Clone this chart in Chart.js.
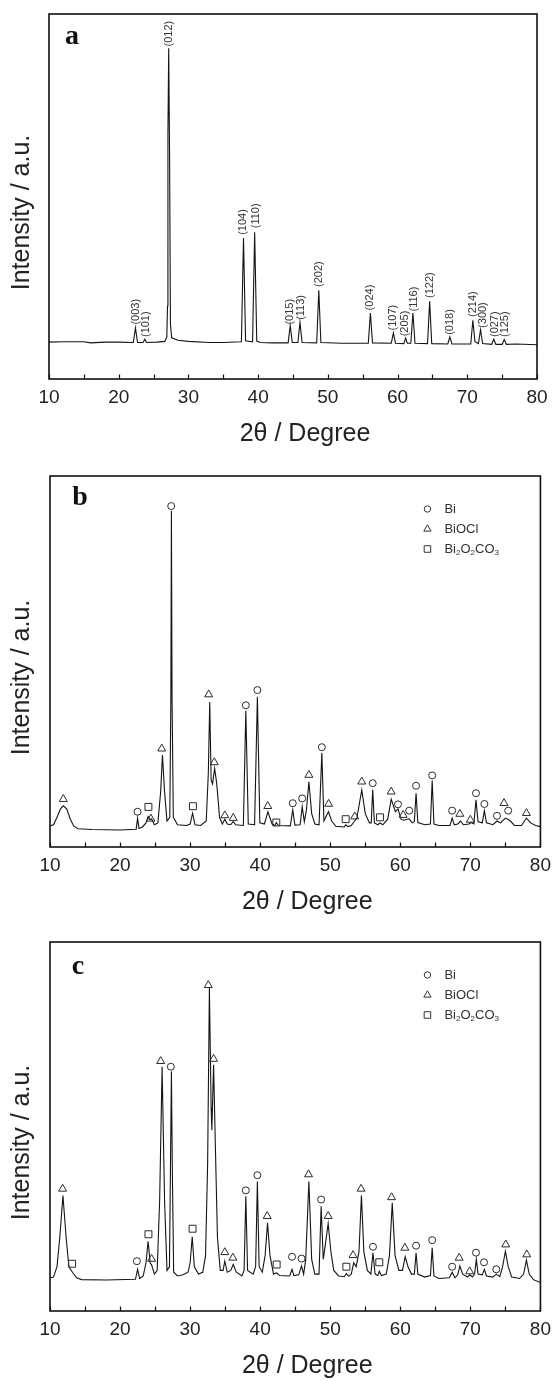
<!DOCTYPE html>
<html><head><meta charset="utf-8">
<script src="https://cdn.jsdelivr.net/npm/chart.js@4.4.1/dist/chart.umd.min.js"></script>
<style>
html,body{margin:0;padding:0;background:#fff;}
#wrap{position:relative;width:558px;height:1381px;overflow:hidden;}
.pane{position:absolute;left:0;width:558px;}
</style></head><body>
<div id="wrap">
<div class="pane" style="top:0;height:460px"><canvas id="ca"></canvas></div>
<div class="pane" style="top:460px;height:460px"><canvas id="cb"></canvas></div>
<div class="pane" style="top:920px;height:461px"><canvas id="cc"></canvas></div>
</div>
<script>
const FONT = "'Liberation Sans', Arial, sans-serif";
const SERIF = "'Liberation Serif', 'Times New Roman', serif";

const xTickValues = [10, 20, 30, 40, 50, 60, 70, 80];
const xMinorTicks = [15, 25, 35, 45, 55, 65, 75];
const legendNames = ['Bi', 'BiOCl', 'Bi2O2CO3'];
const xTitle = '2θ / Degree';
const yTitle = 'Intensity / a.u.';

// ---------- Panel a : pure Bi ----------
const aTheta = [10, 12, 15, 16, 18, 20, 22.1, 22.4, 22.7, 23.5, 23.75, 24.0, 25.5, 26.6, 26.9, 27.0, 27.06, 27.17, 27.3, 27.42, 27.6, 28.5, 30, 33, 35, 37.6, 37.9, 38.2, 39.2, 39.5, 39.8, 40.3, 42, 44.3, 44.6, 44.9, 45.7, 46.0, 46.3, 48.4, 48.7, 49.0, 52, 55.8, 56.1, 56.4, 59.1, 59.4, 59.7, 60.9, 61.15, 61.4, 61.9, 62.2, 62.5, 64.3, 64.6, 64.9, 67.2, 67.5, 67.8, 70.5, 70.8, 71.1, 71.6, 71.9, 72.2, 73.5, 73.8, 74.1, 75.0, 75.3, 75.6, 77, 80];
const aIntensity = [10.1, 10.2, 10.2, 9.9, 10.1, 10.1, 10.0, 14.0, 10.0, 10.0, 10.9, 10.0, 10.1, 10.3, 11.5, 20, 67, 90.6, 60, 15, 11.3, 10.6, 10.3, 10.0, 10.0, 10.2, 38.6, 10.5, 10.2, 40.2, 10.4, 10.0, 9.9, 9.9, 14.6, 10.0, 10.0, 15.5, 10.0, 9.9, 24.3, 10.0, 9.8, 9.8, 18.1, 9.9, 9.8, 12.6, 9.8, 9.7, 11.2, 9.8, 9.8, 18.1, 9.8, 9.7, 21.3, 9.7, 9.6, 11.5, 9.6, 9.6, 16.1, 10.2, 9.7, 13.5, 9.7, 9.5, 10.9, 9.5, 9.5, 10.8, 9.5, 9.6, 9.4];
const aHklLabels = ['(003)', '(101)', '(012)', '(104)', '(110)', '(015)', '(113)', '(202)', '(024)', '(107)', '(205)', '(116)', '(122)', '(018)', '(214)', '(300)', '(027)', '(125)'];
const aHklTheta = [22.42, 23.9, 27.2, 37.85, 39.74, 44.5, 46.2, 48.7, 56.1, 59.4, 61.0, 62.4, 64.7, 67.5, 70.85, 72.2, 73.9, 75.4];
const aHklY = [14.9, 11.5, 91.1, 39.5, 41.3, 14.9, 16.2, 25.2, 18.8, 13.3, 11.7, 18.5, 22.2, 12.1, 17.0, 14.0, 11.5, 11.5];

// ---------- Panel b ----------
const bTheta = [10, 10.5, 11.0, 11.5, 11.9, 12.4, 12.9, 13.4, 14, 16, 20, 22.3, 22.5, 22.7, 23.2, 23.7, 24.0, 24.3, 24.5, 24.9, 25.4, 25.8, 26.05, 26.35, 26.7, 27.1, 27.25, 27.33, 27.42, 27.6, 28.2, 29.5, 30.0, 30.35, 30.7, 31.5, 32.3, 32.6, 32.8, 33.0, 33.2, 33.5, 33.8, 34.2, 34.6, 34.95, 35.3, 35.8, 36.15, 36.5, 37.6, 37.95, 38.3, 39.2, 39.6, 39.95, 40.6, 41.1, 41.7, 42.1, 42.3, 42.6, 44.3, 44.65, 44.95, 45.7, 46.0, 46.3, 46.6, 46.95, 47.35, 47.8, 48.4, 48.8, 49.1, 49.35, 49.75, 50.2, 50.8, 52.0, 52.2, 52.5, 53.0, 53.4, 53.8, 54.5, 55.0, 55.6, 55.85, 56.06, 56.3, 56.8, 57.1, 57.5, 58.2, 58.7, 59.3, 59.67, 60.1, 60.5, 61.27, 61.7, 62.0, 62.25, 62.5, 63.5, 64.3, 64.55, 64.8, 65.5, 67.1, 67.4, 67.7, 68.2, 68.6, 69.0, 69.8, 70.1, 70.5, 70.8, 71.1, 71.7, 72.0, 72.3, 73.2, 73.8, 74.3, 75.0, 75.6, 76.3, 77.3, 78.0, 78.6, 79.3, 80];
const bIntensity = [5.7, 6.0, 8.0, 10.3, 11.1, 10.2, 7.5, 5.6, 4.9, 4.7, 4.6, 4.8, 7.8, 5.0, 5.4, 6.5, 8.2, 7.3, 7.6, 6.0, 6.5, 15, 24.8, 15, 7.0, 8, 40, 90.6, 40, 8, 6.0, 5.8, 6.2, 9.1, 6.0, 5.8, 7.0, 20, 39.1, 18, 17, 21.2, 17, 8, 6.2, 7.5, 6.2, 6.0, 6.9, 6.0, 5.8, 36.7, 6.2, 6.0, 40.5, 6.5, 6.2, 9.5, 6.2, 5.8, 6.6, 5.8, 5.7, 10.0, 5.9, 6.0, 10.9, 6.8, 10, 17.6, 9, 6.2, 6.0, 25.3, 7, 8, 9.5, 7, 5.6, 5.4, 6.0, 5.5, 5.8, 6.8, 7.8, 15.4, 9, 6.5, 6.5, 15.4, 6.5, 6.0, 6.5, 6.0, 7.5, 12.9, 9.5, 10.3, 7.5, 7.2, 7.6, 6.5, 6.8, 14.5, 6.6, 6.0, 6.2, 17.9, 6.2, 5.8, 5.8, 7.8, 6.0, 6.2, 7.0, 6.0, 6.2, 6.6, 6.2, 12.7, 6.8, 6.5, 9.8, 6.5, 6.0, 7.0, 6.5, 7.8, 7.2, 5.8, 5.8, 7.8, 6.5, 5.8, 5.5];
const bBiTheta = [22.5, 27.3, 37.95, 39.6, 44.65, 46.0, 48.8, 56.06, 59.67, 61.27, 62.25, 64.55, 67.4, 70.8, 72.0, 73.8, 75.4];
const bBiY = [9.5, 91.9, 38.2, 42.3, 11.8, 13.1, 26.9, 17.2, 11.5, 9.8, 16.5, 19.3, 9.8, 14.5, 11.6, 8.4, 9.8];
const bBiOClTheta = [11.9, 24.4, 25.95, 32.65, 33.45, 34.95, 36.15, 41.08, 46.95, 49.77, 53.5, 54.5, 58.7, 60.4, 68.5, 70.0, 74.8, 78.0];
const bBiOClY = [12.9, 7.6, 26.5, 41.1, 22.8, 8.5, 7.8, 11.0, 19.4, 11.6, 8.2, 17.6, 14.9, 8.6, 8.9, 7.3, 11.8, 9.1];
const bCarbTheta = [24.05, 30.4, 42.3, 52.2, 57.1];
const bCarbY = [10.8, 11.0, 6.6, 7.5, 8.0];

// ---------- Panel c ----------
const cTheta = [10, 10.5, 11.0, 11.4, 11.85, 12.3, 12.7, 13.2, 13.8, 14.5, 18, 22.2, 22.5, 22.8, 23.3, 23.7, 24.0, 24.3, 24.5, 24.9, 25.3, 25.65, 26.0, 26.35, 26.7, 27.05, 27.2, 27.33, 27.45, 27.65, 28.2, 29.0, 29.7, 30.0, 30.3, 30.6, 31.2, 31.8, 32.2, 32.5, 32.75, 33.0, 33.1, 33.35, 33.6, 33.9, 34.3, 34.7, 34.95, 35.3, 35.8, 36.15, 36.6, 37.4, 37.7, 37.95, 38.2, 39.0, 39.35, 39.6, 39.85, 40.3, 40.7, 41.05, 41.4, 41.9, 42.35, 42.8, 44.2, 44.55, 44.8, 45.5, 45.9, 46.2, 46.5, 46.95, 47.35, 47.8, 48.4, 48.7, 49.0, 49.3, 49.7, 50.1, 50.5, 51.2, 52.0, 52.3, 52.6, 53.0, 53.35, 53.7, 54.1, 54.45, 54.8, 55.3, 55.8, 56.1, 56.4, 56.8, 57.0, 57.3, 58.0, 58.45, 58.85, 59.25, 59.8, 60.3, 60.7, 61.1, 61.6, 62.0, 62.25, 62.5, 63.5, 64.3, 64.55, 64.8, 65.5, 67.0, 67.4, 67.8, 68.2, 68.5, 68.9, 69.6, 69.9, 70.3, 70.6, 70.85, 71.1, 71.7, 72.0, 72.3, 73.2, 73.7, 74.2, 74.6, 75.0, 75.4, 75.9, 77.0, 77.6, 78.0, 78.4, 79.0, 80];
const cIntensity = [9.0, 9.2, 12, 20, 31.3, 20, 12, 10.5, 9.0, 8.5, 8.4, 8.6, 11.3, 8.8, 9.5, 13, 18.9, 13, 12.5, 10, 11, 30, 66.2, 30, 11, 12, 40, 64.9, 40, 10.5, 9.5, 9.8, 10.5, 13, 20.1, 12, 10, 10.5, 15, 40, 87.5, 55, 49, 66.7, 45, 20, 11, 11, 13.5, 10.5, 11, 12.6, 10.5, 9.5, 11, 31.1, 11, 10, 12, 35.1, 12, 10.5, 15, 23.9, 15, 10, 10.3, 9.6, 9.5, 11.3, 9.6, 9.8, 12.2, 10, 14, 35.1, 14, 10, 10, 28.4, 14, 18, 23.7, 16, 11, 9.5, 9.3, 10.2, 9.4, 10, 13.1, 12, 16, 31.3, 16, 11, 10, 15.8, 10, 9.6, 10.8, 9.6, 10, 15, 29.3, 15, 11, 11, 14.7, 12, 10, 10, 15.8, 10, 9.2, 9.6, 17.1, 9.5, 8.8, 9.0, 10.5, 9.0, 9.8, 12.2, 10, 9.2, 9.8, 9.2, 10, 14.0, 10, 9.8, 11.3, 9.5, 9.2, 10.0, 9.3, 12, 16.2, 12, 9.2, 8.8, 10, 13.8, 10, 8.5, 7.7];
const cBiTheta = [22.4, 27.25, 37.95, 39.6, 44.55, 45.9, 48.7, 56.1, 62.25, 64.55, 67.4, 70.8, 71.95, 73.7];
const cBiY = [13.5, 66.2, 32.7, 36.8, 14.7, 14.2, 30.2, 17.4, 17.7, 19.2, 12.0, 15.8, 13.2, 11.3];
const cBiOClTheta = [11.8, 24.5, 25.8, 32.6, 33.35, 34.95, 36.1, 41.0, 46.9, 49.7, 53.25, 54.4, 58.75, 60.65, 68.4, 69.9, 75.05, 78.05];
const cBiOClY = [33.1, 14.1, 67.7, 88.3, 68.3, 15.9, 14.4, 25.7, 37.0, 25.7, 15.1, 33.1, 30.8, 17.1, 14.4, 10.7, 18.0, 15.3];
const cCarbTheta = [13.15, 24.05, 30.35, 42.35, 52.3, 57.0];
const cCarbY = [12.8, 20.8, 22.3, 12.6, 12.0, 13.2];

// ---------- helpers ----------
function zip(xs, ys) { return xs.map((v, i) => ({ x: v, y: ys[i] })); }

function drawShape(ctx, style, x, y, r) {
  ctx.beginPath();
  if (style === 'circle') {
    ctx.arc(x, y, r, 0, Math.PI * 2);
  } else if (style === 'triangle') {
    const h = r * 1.5, w = r * 1.732;
    ctx.moveTo(x, y - r);
    ctx.lineTo(x + w / 2, y + h - r);
    ctx.lineTo(x - w / 2, y + h - r);
    ctx.closePath();
  } else {
    const s = r * Math.SQRT1_2;
    ctx.rect(x - s, y - s, 2 * s, 2 * s);
  }
  ctx.stroke();
}

function drawChem(ctx, text, x, y) {
  let cx = x;
  for (const ch of text) {
    const sub = /[0-9]/.test(ch);
    ctx.font = sub ? `8px ${FONT}` : `13px ${FONT}`;
    ctx.fillText(ch, cx, sub ? y + 4 : y);
    cx += ctx.measureText(ch).width;
  }
}

function extrasPlugin(p) {
  return {
    id: 'extras_' + p.letter,
    afterDraw(chart) {
      const { ctx, chartArea: ca, scales: { x, y } } = chart;
      ctx.save();
      // frame
      ctx.strokeStyle = '#111';
      ctx.lineWidth = 1.6;
      ctx.strokeRect(ca.left, ca.top, ca.right - ca.left, ca.bottom - ca.top);
      // inward ticks
      ctx.lineWidth = 1.2;
      ctx.beginPath();
      xTickValues.concat(xMinorTicks).forEach(v => {
        const px = Math.round(x.getPixelForValue(v)) + 0.5;
        ctx.moveTo(px, ca.bottom);
        ctx.lineTo(px, ca.bottom - 4.5);
      });
      ctx.stroke();
      // panel letter
      ctx.fillStyle = '#111';
      ctx.font = `bold 28px ${SERIF}`;
      ctx.textAlign = 'center';
      ctx.textBaseline = 'middle';
      ctx.fillText(p.letter, p.letterX, p.letterY);
      // x title
      ctx.font = `25px ${FONT}`;
      ctx.fillStyle = '#222';
      ctx.fillText(xTitle, (ca.left + ca.right) / 2 + 12, ca.bottom + 55);
      // y title
      ctx.save();
      ctx.translate(22, (ca.top + ca.bottom) / 2 + 16);
      ctx.rotate(-Math.PI / 2);
      ctx.fillText(yTitle, 0, 0);
      ctx.restore();
      // hkl labels
      if (p.hkl) {
        ctx.font = `11px ${FONT}`;
        ctx.fillStyle = '#333';
        ctx.textAlign = 'left';
        ctx.textBaseline = 'middle';
        p.hkl.labels.forEach((lab, i) => {
          ctx.save();
          ctx.translate(x.getPixelForValue(p.hkl.theta[i]), y.getPixelForValue(p.hkl.y[i]));
          ctx.rotate(-Math.PI / 2);
          ctx.fillText(lab, 0, 0);
          ctx.restore();
        });
      }
      // legend
      if (p.legend) {
        const styles = ['circle', 'triangle', 'rect'];
        const radii = [3.2, 4.2, 4.6];
        const offs = [33, 53, 73];
        ctx.strokeStyle = '#333';
        ctx.lineWidth = 1;
        ctx.fillStyle = '#333';
        ctx.textAlign = 'left';
        ctx.textBaseline = 'middle';
        legendNames.forEach((name, i) => {
          const ly = ca.top + offs[i];
          drawShape(ctx, styles[i], ca.right - 113, ly, radii[i]);
          drawChem(ctx, name, ca.right - 96, ly);
        });
      }
      ctx.restore();
    }
  };
}

function buildChart(id, p) {
  const datasets = [];
  (p.markers || []).forEach(m => datasets.push({
    data: zip(m.theta, m.y), showLine: false, pointStyle: m.style, pointRadius: m.r,
    pointBorderColor: '#2a2a2a', pointBorderWidth: 1, pointBackgroundColor: 'rgba(255,255,255,0)', order: 0
  }));
  datasets.push({
    data: zip(p.theta, p.inten), showLine: true, borderColor: '#141414', borderWidth: 1.1,
    pointRadius: 0, tension: 0, fill: false, order: 1
  });
  return new Chart(document.getElementById(id), {
    type: 'scatter',
    data: { datasets },
    options: {
      responsive: true, maintainAspectRatio: false, animation: false, events: [],
      layout: { padding: p.pad },
      plugins: { legend: { display: false }, tooltip: { enabled: false } },
      scales: {
        x: {
          type: 'linear', min: 10, max: 80,
          afterBuildTicks: s => { s.ticks = xTickValues.map(v => ({ value: v })); },
          afterFit: s => { s.height = 70; },
          grid: { display: false, drawTicks: false },
          border: { display: false },
          ticks: { color: '#222', font: { family: FONT, size: 19 }, padding: 7, maxRotation: 0, autoSkip: false },
          title: { display: false }
        },
        y: { type: 'linear', min: 0, max: 100, display: false }
      }
    },
    plugins: [extrasPlugin(p)]
  });
}

buildChart('ca', {
  letter: 'a', letterX: 72, letterY: 37,
  pad: { top: 14, left: 49, right: 21, bottom: 11 },
  theta: aTheta, inten: aIntensity,
  hkl: { labels: aHklLabels, theta: aHklTheta, y: aHklY }
});
buildChart('cb', {
  letter: 'b', letterX: 80, letterY: 38,
  pad: { top: 16, left: 50, right: 11, bottom: 3 },
  theta: bTheta, inten: bIntensity, legend: true,
  markers: [
    { theta: bBiTheta, y: bBiY, style: 'circle', r: 3.5 },
    { theta: bBiOClTheta, y: bBiOClY, style: 'triangle', r: 4.6 },
    { theta: bCarbTheta, y: bCarbY, style: 'rect', r: 4.9 }
  ]
});
buildChart('cc', {
  letter: 'c', letterX: 78, letterY: 47,
  pad: { top: 22, left: 50, right: 11, bottom: 0 },
  theta: cTheta, inten: cIntensity, legend: true,
  markers: [
    { theta: cBiTheta, y: cBiY, style: 'circle', r: 3.5 },
    { theta: cBiOClTheta, y: cBiOClY, style: 'triangle', r: 4.6 },
    { theta: cCarbTheta, y: cCarbY, style: 'rect', r: 4.9 }
  ]
});
</script>
</body></html>
